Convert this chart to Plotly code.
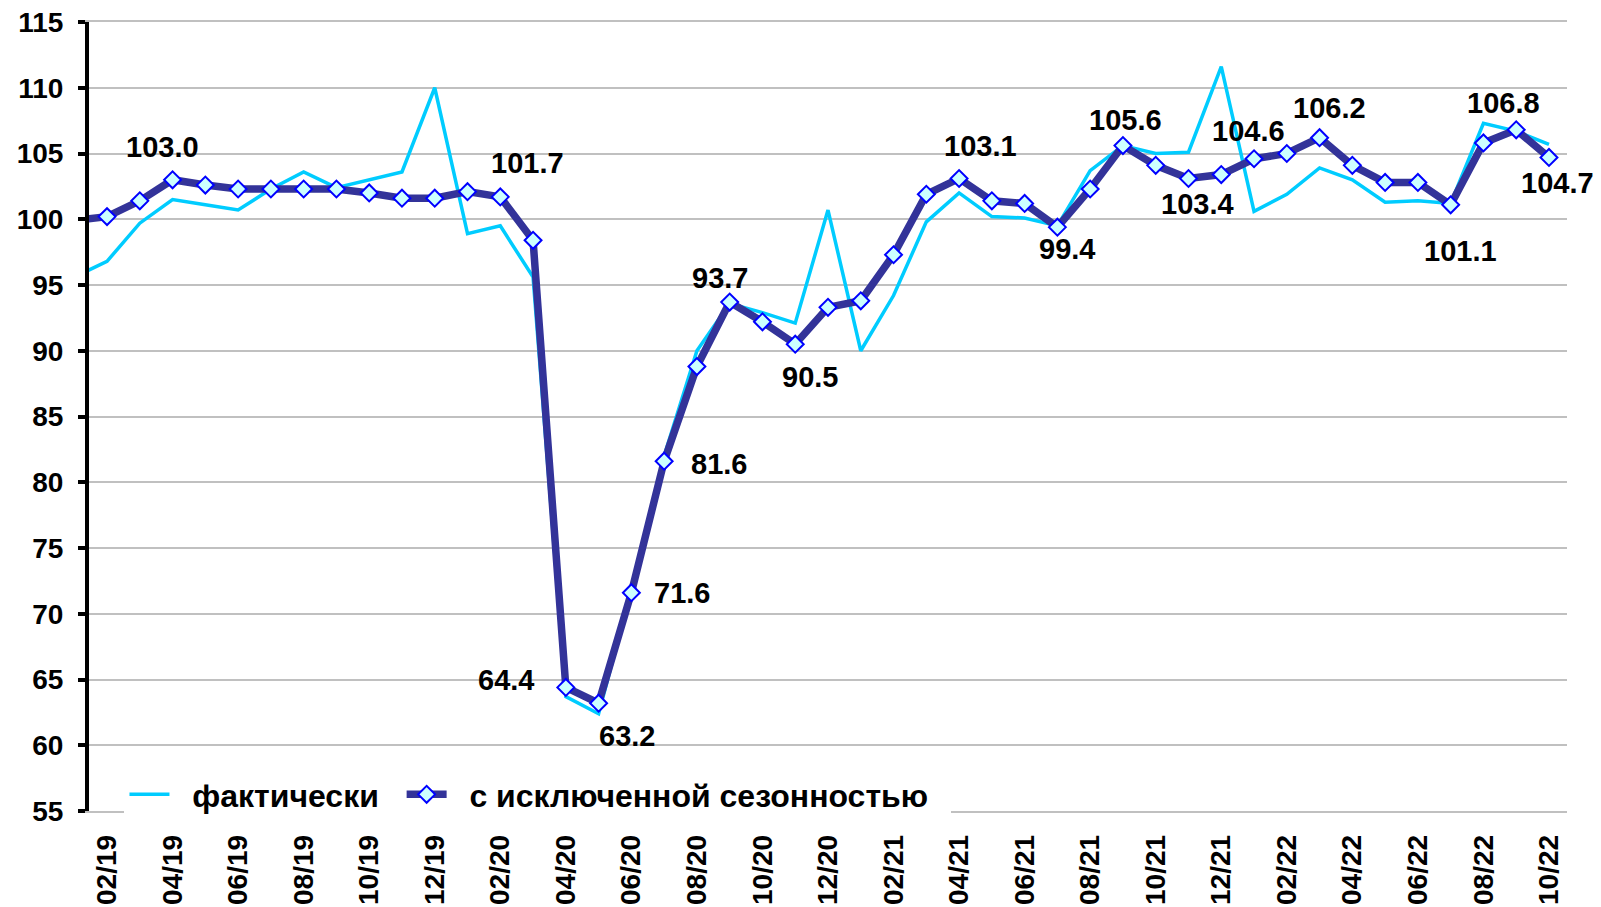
import plotly.graph_objects as go

# ---------------- data ----------------
months = ["01/19", "02/19", "03/19", "04/19", "05/19", "06/19", "07/19", "08/19", "09/19", "10/19", "11/19", "12/19",
          "01/20", "02/20", "03/20", "04/20", "05/20", "06/20", "07/20", "08/20", "09/20", "10/20", "11/20", "12/20",
          "01/21", "02/21", "03/21", "04/21", "05/21", "06/21", "07/21", "08/21", "09/21", "10/21", "11/21", "12/21",
          "01/22", "02/22", "03/22", "04/22", "05/22", "06/22", "07/22", "08/22", "09/22", "10/22"]

actual = [95.6, 96.8, 99.7, 101.5, 101.1, 100.7, 102.3, 103.6, 102.4, 103.0, 103.6, 110.0,
          98.9, 99.5, 95.6, 63.7, 62.4, 71.8, 82.0, 90.0, 93.6, 92.9, 92.1, 100.7,
          90.0, 94.2, 99.8, 102.0, 100.2, 100.1, 99.5, 103.7, 105.6, 105.0, 105.1, 111.6,
          100.6, 101.9, 103.9, 103.0, 101.3, 101.4, 101.2, 107.3, 106.7, 105.7]

seasonally_adjusted = [99.9, 100.2, 101.4, 103.0, 102.6, 102.3, 102.3, 102.3, 102.3, 102.0, 101.6, 101.6,
                       102.1, 101.7, 98.4, 64.4, 63.2, 71.6, 81.6, 88.8, 93.7, 92.2, 90.5, 93.3,
                       93.8, 97.3, 101.9, 103.1, 101.4, 101.2, 99.4, 102.3, 105.6, 104.1, 103.1, 103.4,
                       104.6, 105.0, 106.2, 104.1, 102.8, 102.8, 101.1, 105.8, 106.8, 104.7]

tick_labels = ["02/19", "04/19", "06/19", "08/19", "10/19", "12/19", "02/20", "04/20", "06/20", "08/20",
               "10/20", "12/20", "02/21", "04/21", "06/21", "08/21", "10/21", "12/21", "02/22", "04/22",
               "06/22", "08/22", "10/22"]

labeled_months = ["04/19", "02/20", "04/20", "05/20", "06/20", "07/20", "09/20", "11/20", "04/21",
                  "07/21", "09/21", "12/21", "01/22", "03/22", "07/22", "09/22", "10/22"]

series_names = ["фактически", "с исключенной сезонностью"]

y_min, y_max, y_step = 55, 115, 5
base_level = 100

# ---------------- styling ----------------
FONT = "Arial, 'Liberation Sans', sans-serif"
GRID = "#c0c0c0"
NB = "\u00a0"
legend_pad = [(2, 2), (2, 2)]  # (leading, trailing) non-breaking spaces per legend entry
label_shift = {  # (xshift, yshift) in px for data labels
    "04/19": (-10, 33), "02/20": (27, 34), "04/20": (-60, 7), "05/20": (28, -33),
    "06/20": (51, 0), "07/20": (55, -3), "09/20": (-10, 24), "11/20": (15, -33),
    "04/21": (21, 32), "07/21": (10, -22), "09/21": (3, 26), "12/21": (-24, -29),
    "01/22": (-6, 28), "03/22": (10, 30), "07/22": (10, -46), "09/22": (-13, 27),
    "10/22": (9, -26),
}

n = len(months)
x_range = [1 - 0.55, (n - 1) + 0.55]
boundaries = [i + 0.5 for i in range(2, n - 1, 2)]
y_ticks = list(range(y_min, y_max + 1, y_step))

def padded(name, pad):
    return NB * pad[0] + name + NB * pad[1]

fig = go.Figure()
fig.add_trace(go.Scatter(
    x=months, y=actual, mode="lines", name=padded(series_names[0], legend_pad[0]),
    line=dict(color="#00ccff", width=3.5),
))
fig.add_trace(go.Scatter(
    x=months, y=seasonally_adjusted, mode="lines+markers", name=padded(series_names[1], legend_pad[1]),
    line=dict(color="#333399", width=7.5),
    marker=dict(symbol="diamond", size=13, color="#ccffff", line=dict(color="#0000ff", width=2)),
))

for m in labeled_months:
    i = months.index(m)
    dx, dy = label_shift[m]
    fig.add_annotation(
        x=m, y=seasonally_adjusted[i], text=f"{seasonally_adjusted[i]:.1f}",
        showarrow=False, xshift=dx, yshift=dy,
        font=dict(family=FONT, size=29, color="black", weight="bold"),
    )

fig.update_layout(
    template="none",
    width=1601, height=907,
    margin=dict(l=89, r=34, t=22, b=96, pad=0),
    paper_bgcolor="white", plot_bgcolor="white",
    showlegend=True,
    legend=dict(
        orientation="h", x=0.024, y=-0.014, xanchor="left", yanchor="bottom",
        bgcolor="white", borderwidth=0,
        font=dict(family=FONT, size=32, color="black", weight="bold"),
        itemwidth=40,
    ),
    xaxis=dict(
        type="category", range=x_range, automargin=False,
        tickmode="array", tickvals=tick_labels, ticktext=tick_labels,
        tickangle=-90, ticks="", ticklabelstandoff=11,
        tickfont=dict(family=FONT, size=28, color="black", weight="bold"),
        showgrid=False, zeroline=False,
        showline=True, linecolor=GRID, linewidth=1.5, mirror=True,
    ),
    xaxis2=dict(
        overlaying="x", type="linear", range=x_range, automargin=False,
        anchor="free", position=(base_level - y_min) / (y_max - y_min), side="bottom",
        tickmode="array", tickvals=boundaries, showticklabels=False,
        ticks="outside", ticklen=9, tickwidth=3, tickcolor="black",
        showgrid=True, gridcolor=GRID, gridwidth=1.5, zeroline=False,
        showline=True, linecolor="black", linewidth=4, layer="below traces",
    ),
    yaxis=dict(
        range=[y_min, y_max], automargin=False,
        tickmode="array", tickvals=y_ticks,
        ticks="outside", ticklen=7, tickwidth=4, tickcolor="black",
        ticklabelstandoff=9,
        tickfont=dict(family=FONT, size=28, color="black", weight="bold"),
        showgrid=True, gridcolor=GRID, gridwidth=1.5, zeroline=False,
        showline=True, linecolor="black", linewidth=4,
    ),
    yaxis2=dict(
        overlaying="y", side="right", range=[y_min, y_max], automargin=False,
        showline=True, linecolor=GRID, linewidth=1.5,
        showgrid=False, zeroline=False, showticklabels=False, ticks="",
    ),
    yaxis3=dict(
        overlaying="y", side="left", range=[y_min, y_max], automargin=False,
        tickmode="array", tickvals=y_ticks,
        ticks="inside", ticklen=9, tickwidth=4, tickcolor="black",
        showline=False, showgrid=False, zeroline=False, showticklabels=False,
    ),
)

fig.write_html("out.html", config={"displayModeBar": False},
               post_script="document.body.style.margin='0';document.body.style.overflow='hidden';")
